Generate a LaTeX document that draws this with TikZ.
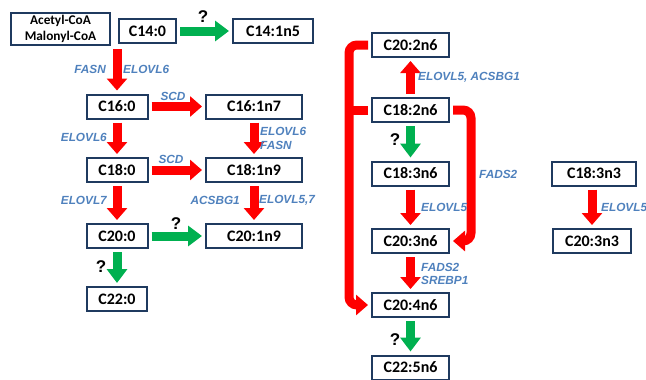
\documentclass[tikz,border=0pt]{standalone}
\usepackage{fontspec}
\setmainfont{Carlito}
\newfontfamily\labelfont{Liberation Sans}
\usepackage{xcolor}
\usetikzlibrary{arrows.meta, positioning, calc}
\definecolor{boxline}{HTML}{1F3A5F}
\definecolor{enzblue}{HTML}{4F81BD}
\definecolor{fared}{HTML}{FF0000}
\definecolor{fagreen}{HTML}{00B050}

\begin{document}
\begin{tikzpicture}[x=1pt, y=-1pt,
    fa/.style={draw=boxline, line width=2pt, fill=white, inner sep=0pt,
        minimum height=24pt, font=\bfseries\fontsize{16}{18}\selectfont},
    enz/.style={text=enzblue, inner sep=0pt, align=left,
        font=\labelfont\bfseries\itshape\fontsize{11.8}{13.5}\selectfont},
    qm/.style={inner sep=0pt, font=\labelfont\bfseries\fontsize{17}{19}\selectfont},
    redarr/.style={draw=fared, line width=9pt, shorten <=3pt, shorten >=3pt,
        -{Triangle[width=20pt,length=12pt]}},
    grnarr/.style={draw=fagreen, line width=9pt, shorten <=3pt, shorten >=3pt,
        -{Triangle[width=20pt,length=14pt]}}]
\useasboundingbox (0,0) rectangle (646,380);

% Saturated and n7/n9 chain
\node[fa, minimum width=99pt, minimum height=32pt, align=center,
    font=\bfseries\fontsize{13.3}{16.5}\selectfont] (acetyl) at (60.5,29) {Acetyl-CoA\\Malonyl-CoA};
\node[fa, minimum width=57pt] (c140) at (147.5,31) {C14:0};
\node[fa, minimum width=80pt] (c141n5) at (273,31) {C14:1n5};
\node[fa, minimum width=61pt] (c160) at (117,106.5) {C16:0};
\node[fa, minimum width=96pt] (c161n7) at (254,106.5) {C16:1n7};
\node[fa, minimum width=61pt] (c180) at (117,170) {C18:0};
\node[fa, minimum width=96pt] (c181n9) at (254,170) {C18:1n9};
\node[fa, minimum width=61pt] (c200) at (117,236) {C20:0};
\node[fa, minimum width=96pt] (c201n9) at (254,236) {C20:1n9};
\node[fa, minimum width=60pt] (c220) at (117,299) {C22:0};

\draw[grnarr] (c140) -- (c141n5);
\draw[redarr] (c160.north |- acetyl.south) -- (c160);
\draw[redarr] (c160) -- (c161n7);
\draw[redarr] (c160) -- (c180);
\draw[redarr] (c161n7) -- (c181n9);
\draw[redarr] (c180) -- (c181n9);
\draw[redarr] (c180) -- (c200);
\draw[redarr] (c181n9) -- (c201n9);
\draw[grnarr] (c200) -- (c201n9);
\draw[grnarr] (c200) -- (c220);

\node[qm] (q1) at (203,17) {?};
\node[enz, anchor=east] (fasn) at (106,69) {FASN};
\node[enz, anchor=west] (elovl6a) at (123,69) {ELOVL6};
\node[enz] (scd1) at (173,96) {SCD};
\node[enz, anchor=east] (elovl6b) at (107,137) {ELOVL6};
\node[enz, anchor=west] (elovl6c) at (260,138.5) {ELOVL6\\FASN};
\node[enz] (scd2) at (171,159) {SCD};
\node[enz, anchor=east] (elovl7) at (107,200) {ELOVL7};
\node[enz, anchor=east] (acsbg1) at (240,200) {ACSBG1};
\node[enz, anchor=west] (elovl57) at (259,200) {ELOVL5,7};
\node[qm] (q2) at (176,224) {?};
\node[qm] (q3) at (101,267) {?};

% n6 chain
\node[fa, minimum width=77pt] (c202n6) at (410.5,45) {C20:2n6};
\node[fa, minimum width=77pt] (c182n6) at (410.5,110) {C18:2n6};
\node[fa, minimum width=77pt] (c183n6) at (410.5,173.5) {C18:3n6};
\node[fa, minimum width=77pt] (c203n6) at (410.5,241) {C20:3n6};
\node[fa, minimum width=77pt] (c204n6) at (410.5,305) {C20:4n6};
\node[fa, minimum width=77pt] (c225n6) at (410.5,367.5) {C22:5n6};

\coordinate (lbar) at (349,0);
\coordinate (rbar) at (471,0);
\draw[fared, line width=9pt, shorten <=3pt] (c182n6.west) -- (lbar |- c182n6.west);
\draw[redarr, rounded corners=8pt] (c202n6.west) -- (lbar |- c202n6.west)
    -- (lbar |- c204n6.west) -- (c204n6.west);
\draw[redarr, rounded corners=8pt] (c182n6.east) -- (rbar |- c182n6.east)
    -- (rbar |- c203n6.east) -- (c203n6.east);
\draw[redarr] (c182n6) -- (c202n6);
\draw[grnarr] (c182n6) -- (c183n6);
\draw[redarr] (c183n6) -- (c203n6);
\draw[redarr] (c203n6) -- (c204n6);
\draw[grnarr] (c204n6) -- (c225n6);

\node[enz, anchor=west] (elovl5a) at (418,77) {ELOVL5, ACSBG1};
\node[qm] (q4) at (395,140) {?};
\node[enz, anchor=west] (fads2a) at (479,174) {FADS2};
\node[enz, anchor=west] (elovl5b) at (421,207) {ELOVL5};
\node[enz, anchor=west] (fads2b) at (421,274) {FADS2\\SREBP1};
\node[qm] (q5) at (395,340) {?};

% n3 chain
\node[fa, minimum width=84pt] (c183n3) at (594,173.5) {C18:3n3};
\node[fa, minimum width=78pt] (c203n3) at (592,241) {C20:3n3};
\draw[redarr] (c183n3.south -| c203n3) -- (c203n3);
\node[enz, anchor=west] (elovl5c) at (601,207) {ELOVL5};
\end{tikzpicture}
\end{document}
